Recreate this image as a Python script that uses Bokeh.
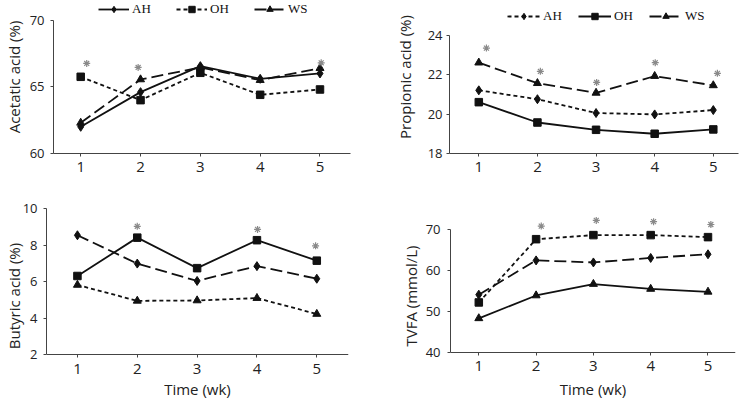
from bokeh.plotting import figure
from bokeh.layouts import row, column
from bokeh.models import Range1d, FixedTicker
from bokeh.embed import file_html
from bokeh.resources import INLINE

weeks = [1, 2, 3, 4, 5]

acetic_AH = [62.0, 64.6, 66.55, 65.6, 66.0]
acetic_OH = [65.75, 64.0, 66.05, 64.4, 64.8]
acetic_WS = [62.3, 65.55, 66.45, 65.5, 66.4]
acetic_star_x = [1.1, 1.96, 5.02]
acetic_star_y = [66.75, 66.45, 66.8]

propionic_AH = [21.2, 20.75, 20.05, 19.98, 20.2]
propionic_OH = [20.6, 19.57, 19.2, 19.0, 19.22]
propionic_WS = [22.6, 21.56, 21.07, 21.92, 21.45]
propionic_star_x = [1.13, 2.05, 3.01, 4.01, 5.07]
propionic_star_y = [23.34, 22.16, 21.6, 22.6, 22.06]

butyric_AH = [8.54, 6.99, 6.04, 6.85, 6.16]
butyric_OH = [6.31, 8.41, 6.74, 8.27, 7.15]
butyric_WS = [5.82, 4.95, 4.97, 5.1, 4.23]
butyric_star_x = [2.0, 4.01, 4.98]
butyric_star_y = [9.03, 8.86, 7.96]

tvfa_AH = [54.1, 62.5, 62.0, 63.1, 64.0]
tvfa_OH = [52.2, 67.7, 68.7, 68.7, 68.2]
tvfa_WS = [48.3, 53.9, 56.7, 55.5, 54.8]
tvfa_star_x = [2.09, 3.05, 4.05, 5.05]
tvfa_star_y = [70.9, 72.3, 72.0, 71.3]

acetic_ticks = [60, 65, 70]
propionic_ticks = [18, 20, 22, 24]
butyric_ticks = [2, 4, 6, 8, 10]
tvfa_ticks = [40, 50, 60, 70]

SOLID = "solid"
SHORT = "4 3"
LONG = "12 5"
INK = "#111111"
AXC = "#444444"
FONT = "Open Sans"


def panel(w, h, xr, yr, ml, mr, mb, yticks, ylabel, xlabel, series, stars,
          ylab_standoff, ytick_standoff, xtick_standoff, legend=None):
    p = figure(width=w, height=h, output_backend="svg", toolbar_location=None,
               x_range=Range1d(*xr), y_range=Range1d(*yr),
               min_border_left=ml, min_border_right=mr, min_border_bottom=mb,
               min_border_top=0)
    p.outline_line_color = None
    p.grid.visible = False
    p.background_fill_color = "white"
    p.border_fill_color = "white"

    for vals, dash, marker, msize, label in series:
        kw = {"legend_label": label} if legend else {}
        p.line(weeks, vals, line_color=INK, line_width=1.8, line_dash=dash, **kw)
        p.scatter(weeks, vals, marker=marker, size=msize, fill_color=INK,
                  line_color=INK, **kw)

    sx, sy = stars
    p.scatter(sx, sy, marker="asterisk", size=7, line_color="#8a8a8a", line_width=1.2)

    xa = p.xaxis[0]
    xa.ticker = FixedTicker(ticks=weeks)
    xa.major_tick_out = 3
    xa.major_tick_in = 0
    xa.minor_tick_out = 0
    xa.minor_tick_in = 0
    xa.axis_line_color = AXC
    xa.major_tick_line_color = AXC
    xa.major_label_text_font = FONT
    xa.major_label_text_font_size = "15px"
    xa.major_label_text_color = "#222222"
    xa.major_label_standoff = xtick_standoff
    if xlabel:
        text, lab_standoff = xlabel
        # axis sits at the lowest y tick inside an extended frame
        xa.fixed_location = yticks[0]
        xa.axis_label = text
        xa.axis_label_text_font = FONT
        xa.axis_label_text_font_style = "normal"
        xa.axis_label_text_font_size = "15px"
        xa.axis_label_text_color = "#222222"
        xa.axis_label_standoff = lab_standoff

    ya = p.yaxis[0]
    ya.ticker = FixedTicker(ticks=yticks)
    ya.bounds = (yticks[0], yticks[-1])
    ya.major_tick_out = 3
    ya.major_tick_in = 0
    ya.minor_tick_out = 0
    ya.minor_tick_in = 0
    ya.axis_line_color = AXC
    ya.major_tick_line_color = AXC
    ya.major_label_text_font = FONT
    ya.major_label_text_font_size = "13px"
    ya.major_label_text_color = "#222222"
    ya.major_label_standoff = ytick_standoff
    ya.axis_label = ylabel
    ya.axis_label_text_font = FONT
    ya.axis_label_text_font_style = "normal"
    ya.axis_label_text_font_size = "15px"
    ya.axis_label_text_color = "#222222"
    ya.axis_label_standoff = ylab_standoff

    if legend:
        lx, ltop, glyph_w, spacing = legend
        lg = p.legend[0]
        lg.orientation = "horizontal"
        lg.border_line_color = None
        lg.background_fill_alpha = 0
        lg.padding = 0
        lg.margin = 0
        lg.spacing = spacing
        lg.glyph_width = glyph_w
        lg.glyph_height = 16
        lg.label_height = 14
        lg.label_standoff = 3
        lg.label_text_font = "Liberation Serif"
        lg.label_text_font_size = "13px"
        lg.label_text_color = INK
        frame_h = h - mb
        lg.location = (lx, frame_h - ltop - 16)
    return p


p1 = panel(370, 190, (0.545, 5.51), (60, 71.47), 52, 20, 37,
           acetic_ticks, "Acetatic acid (%)", None,
           [(acetic_AH, SOLID, "diamond", 9, "AH"),
            (acetic_OH, SHORT, "square", 7.5, "OH"),
            (acetic_WS, LONG, "triangle", 8, "WS")],
           (acetic_star_x, acetic_star_y), 3, 6, 5, legend=(45, 1, 31, 24))

p2 = panel(376, 190, (0.5, 5.43), (18, 25.75), 79, 8, 37,
           propionic_ticks, "Propionic acid (%)", None,
           [(propionic_AH, SHORT, "diamond", 9, "AH"),
            (propionic_OH, SOLID, "square", 7.5, "OH"),
            (propionic_WS, LONG, "triangle", 8, "WS")],
           (propionic_star_x, propionic_star_y), 10, 4, 5, legend=(58, 7.5, 33, 15))

p3 = panel(370, 211, (0.483, 5.53), (-0.56, 10.99), 45, 22, 0,
           butyric_ticks, "Butyric acid (%)", ("Time (wk)", 2),
           [(butyric_AH, LONG, "diamond", 9, "AH"),
            (butyric_OH, SOLID, "square", 7.5, "OH"),
            (butyric_WS, SHORT, "triangle", 8, "WS")],
           (butyric_star_x, butyric_star_y), -4, 6, 6)

p4 = panel(376, 211, (0.506, 5.48), (27.92, 79.63), 80, 11, 0,
           tvfa_ticks, "TVFA (mmol/L)", ("Time (wk)", 4),
           [(tvfa_AH, LONG, "diamond", 9, "AH"),
            (tvfa_OH, SHORT, "square", 7.5, "OH"),
            (tvfa_WS, SOLID, "triangle", 8, "WS")],
           (tvfa_star_x, tvfa_star_y), 2, 7, 6)

layout = column(row(p1, p2), row(p3, p4))
open("out.html", "w").write(file_html(layout, INLINE))
